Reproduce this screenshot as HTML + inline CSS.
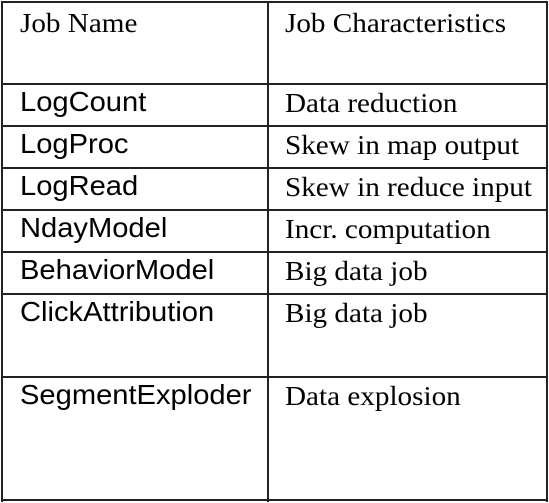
<!DOCTYPE html>
<html><head><style>
html,body{margin:0;padding:0;background:#fff;width:549px;height:503px;overflow:hidden}
.h{position:absolute;left:1px;width:547px;height:0;border-top:2px solid #222}
.v{position:absolute;top:1px;height:501px;width:0;border-left:2px solid #222}
.t{position:absolute;white-space:nowrap;line-height:1;color:#000;transform-origin:0 0}
.s{font-family:"Liberation Sans",sans-serif;font-size:28px;left:20px;transform:scaleX(1.04)}
.r{font-family:"Liberation Serif",serif;font-size:27px;left:285px;transform:scaleX(1.08)}
</style></head><body>
<div class="h" style="top:1px"></div>
<div class="h" style="top:83px"></div>
<div class="h" style="top:125px"></div>
<div class="h" style="top:167px"></div>
<div class="h" style="top:209px"></div>
<div class="h" style="top:251px"></div>
<div class="h" style="top:293px"></div>
<div class="h" style="top:376px"></div>
<div class="h" style="top:499px"></div>
<div class="v" style="left:1px"></div>
<div class="v" style="left:267px"></div>
<div class="v" style="left:546px"></div>
<div class="t r" style="left:20px;top:10px">Job Name</div>
<div class="t r" style="top:10px">Job Characteristics</div>
<div class="t s" style="top:88px">LogCount</div>
<div class="t r" style="top:90px">Data reduction</div>
<div class="t s" style="top:130px">LogProc</div>
<div class="t r" style="top:132px">Skew in map output</div>
<div class="t s" style="top:172px">LogRead</div>
<div class="t r" style="top:174px">Skew in reduce input</div>
<div class="t s" style="top:214px">NdayModel</div>
<div class="t r" style="top:216px">Incr. computation</div>
<div class="t s" style="top:256px">BehaviorModel</div>
<div class="t r" style="top:258px">Big data job</div>
<div class="t s" style="top:298px">ClickAttribution</div>
<div class="t r" style="top:300px">Big data job</div>
<div class="t s" style="top:381px">SegmentExploder</div>
<div class="t r" style="top:383px">Data explosion</div>
</body></html>
